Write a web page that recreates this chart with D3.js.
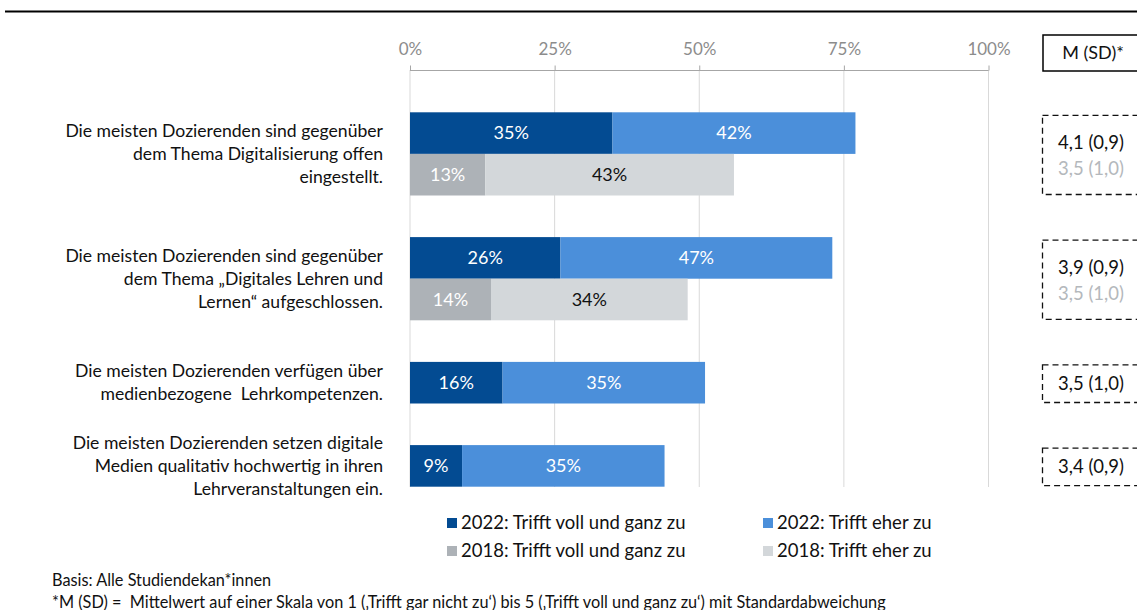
<!DOCTYPE html>
<html lang="de">
<head>
<meta charset="utf-8">
<script src="https://cdn.jsdelivr.net/npm/d3@7"></script>
<style>
  html, body { margin: 0; padding: 0; background: #fff; overflow: hidden; }
  svg { display: block; font-family: Lato, "Open Sans", sans-serif; }
</style>
</head>
<body>
<svg id="chart" width="1137" height="610"></svg>
<script>
// Statements (one line per array entry)
const statements = [
  ["Die meisten Dozierenden sind gegenüber", "dem Thema Digitalisierung offen", "eingestellt."],
  ["Die meisten Dozierenden sind gegenüber", "dem Thema „Digitales Lehren und", "Lernen“ aufgeschlossen."],
  ["Die meisten Dozierenden verfügen über", "medienbezogene  Lehrkompetenzen."],
  ["Die meisten Dozierenden setzen digitale", "Medien qualitativ hochwertig in ihren", "Lehrveranstaltungen ein."]
];

// Shares in percent
const full2022   = [35, 26, 16, 9];
const rather2022 = [42, 47, 35, 35];
const full2018   = [13, 14, null, null];
const rather2018 = [43, 34, null, null];

// Mean (standard deviation)
const msd2022 = ["4,1 (0,9)", "3,9 (0,9)", "3,5 (1,0)", "3,4 (0,9)"];
const msd2018 = ["3,5 (1,0)", "3,5 (1,0)", null, null];

const tickValues = [0, 25, 50, 75, 100];

const legendLabels = [
  "2022: Trifft voll und ganz zu", "2022: Trifft eher zu",
  "2018: Trifft voll und ganz zu", "2018: Trifft eher zu"
];

const colors = {
  full2022: "#034b92",
  rather2022: "#4b8fda",
  full2018: "#adb2b7",
  rather2018: "#d3d7da"
};

const svg = d3.select("#chart");

// Rows: one per bar, plus a spacer row after each statement
const rows = [];
statements.forEach((s, i) => {
  rows.push("r" + i + "-2022");
  if (full2018[i] !== null) rows.push("r" + i + "-2018");
  if (i < statements.length - 1) rows.push("gap" + i);
});

const x = d3.scaleLinear().domain([0, 100]).range([410, 988.5]);
const y = d3.scaleBand().domain(rows).range([112.3, 486.7]).padding(0);

// Top rule
svg.append("line")
  .attr("x1", 5).attr("x2", 1137).attr("y1", 11.5).attr("y2", 11.5)
  .attr("stroke", "#000").attr("stroke-width", 2.2);

// Gridlines
svg.append("g").selectAll("line").data(tickValues).join("line")
  .attr("x1", d => x(d)).attr("x2", d => x(d))
  .attr("y1", 70).attr("y2", 487)
  .attr("stroke", "#d9d9d9").attr("stroke-width", 1);

// Top axis
const axis = svg.append("g").attr("transform", "translate(0,70.5)")
  .call(d3.axisTop(x).tickValues(tickValues).tickFormat(d => d + "%").tickSize(5).tickPadding(11));
axis.select(".domain").attr("stroke", "#a6a6a6").attr("d", `M${x(0)},0H${x(100)}`);
axis.selectAll(".tick line").attr("stroke", "#a6a6a6");
axis.selectAll(".tick text")
  .attr("fill", "#8c8c8c").attr("font-size", 17).attr("font-family", "Lato, sans-serif");

// Bars
const segments = [];
statements.forEach((s, i) => {
  segments.push({ row: "r" + i + "-2022", x0: 0, v: full2022[i], fill: colors.full2022, text: "#fff" });
  segments.push({ row: "r" + i + "-2022", x0: full2022[i], v: rather2022[i], fill: colors.rather2022, text: "#fff" });
  if (full2018[i] !== null) {
    segments.push({ row: "r" + i + "-2018", x0: 0, v: full2018[i], fill: colors.full2018, text: "#fff" });
    segments.push({ row: "r" + i + "-2018", x0: full2018[i], v: rather2018[i], fill: colors.rather2018, text: "#111" });
  }
});

const bars = svg.append("g");
bars.selectAll("rect").data(segments).join("rect")
  .attr("x", d => x(d.x0))
  .attr("y", d => y(d.row))
  .attr("width", d => x(d.x0 + d.v) - x(d.x0))
  .attr("height", y.bandwidth())
  .attr("fill", d => d.fill);

bars.selectAll("text").data(segments).join("text")
  .attr("x", d => x(d.x0 + d.v / 2))
  .attr("y", d => y(d.row) + y.bandwidth() / 2)
  .attr("dy", "0.35em")
  .attr("text-anchor", "middle")
  .attr("font-size", 18)
  .attr("fill", d => d.text)
  .text(d => d.v + "%");

// Statement labels, centred on each statement's bars
function groupExtent(i) {
  const top = y("r" + i + "-2022");
  const bottom = full2018[i] !== null ? y("r" + i + "-2018") + y.bandwidth() : top + y.bandwidth();
  return [top, bottom];
}

const labels = svg.append("g");
statements.forEach((lines, i) => {
  const [t, b] = groupExtent(i);
  const cy = (t + b) / 2;
  const lh = 23;
  const t0 = cy - (lines.length - 1) * lh / 2;
  const txt = labels.append("text")
    .attr("text-anchor", "end").attr("font-size", 17.6).attr("fill", "#111");
  lines.forEach((ln, k) => {
    txt.append("tspan").attr("x", 383).attr("y", t0 + k * lh).attr("dy", "0.35em")
      .style("white-space", "pre").text(ln);
  });
});

// M (SD) header box (runs off the right edge)
svg.append("rect")
  .attr("x", 1043).attr("y", 35).attr("width", 120).attr("height", 36)
  .attr("fill", "none").attr("stroke", "#000").attr("stroke-width", 1.5);
svg.append("text")
  .attr("x", 1093).attr("y", 53).attr("dy", "0.35em").attr("text-anchor", "middle")
  .attr("font-size", 18).attr("fill", "#111").text("M (SD)*");

// Dashed boxes with means (run off the right edge)
const msd = svg.append("g");
statements.forEach((s, i) => {
  const [t, b] = groupExtent(i);
  msd.append("rect")
    .attr("x", 1042.5).attr("y", t + 3).attr("width", 120).attr("height", b - t - 4)
    .attr("fill", "none").attr("stroke", "#111").attr("stroke-width", 1.3)
    .attr("stroke-dasharray", "6,4");
  const cy = (t + b) / 2;
  if (msd2018[i] !== null) {
    msd.append("text").attr("x", 1058).attr("y", cy - 11).attr("dy", "0.35em")
      .attr("font-size", 18.5).attr("fill", "#111").text(msd2022[i]);
    msd.append("text").attr("x", 1058).attr("y", cy + 15).attr("dy", "0.35em")
      .attr("font-size", 18.5).attr("fill", "#b4b8bc").text(msd2018[i]);
  } else {
    msd.append("text").attr("x", 1058).attr("y", cy + 1).attr("dy", "0.35em")
      .attr("font-size", 18.5).attr("fill", "#111").text(msd2022[i]);
  }
});

// Legend
const legendColors = [colors.full2022, colors.rather2022, colors.full2018, colors.rather2018];
const legendPos = [[447, 523], [763, 523], [447, 551], [763, 551]];
const legend = svg.append("g");
legendLabels.forEach((lab, i) => {
  const [lx, ly] = legendPos[i];
  legend.append("rect").attr("x", lx).attr("y", ly - 5).attr("width", 10).attr("height", 10)
    .attr("fill", legendColors[i]);
  legend.append("text").attr("x", lx + 14).attr("y", ly).attr("dy", "0.35em")
    .attr("font-size", 18.5).attr("fill", "#111").text(lab);
});

// Footnotes
svg.append("text").attr("x", 52).attr("y", 580).attr("dy", "0.35em")
  .attr("font-size", 16.3).attr("fill", "#111").text("Basis: Alle Studiendekan*innen");
svg.append("text").attr("x", 52).attr("y", 602).attr("dy", "0.35em")
  .attr("font-size", 16.3).attr("fill", "#111").style("white-space", "pre")
  .text("*M (SD) =  Mittelwert auf einer Skala von 1 (‚Trifft gar nicht zu‘) bis 5 (‚Trifft voll und ganz zu‘) mit Standardabweichung");
</script>
</body>
</html>
